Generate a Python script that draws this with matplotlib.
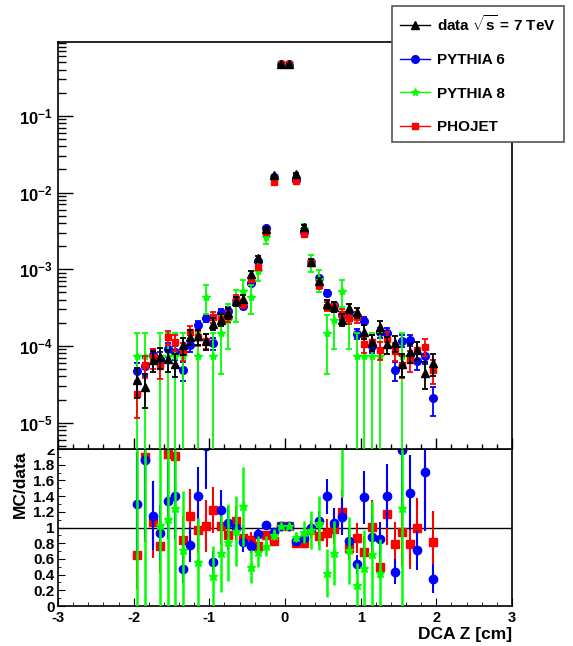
import numpy as np
import matplotlib.pyplot as plt
from matplotlib.lines import Line2D
from matplotlib.patches import Rectangle
from matplotlib.ticker import MultipleLocator, LogLocator, NullFormatter, FixedLocator

plt.rcParams['font.family'] = ['Liberation Sans', 'DejaVu Sans']
plt.rcParams['font.weight'] = 'bold'
plt.rcParams['mathtext.fontset'] = 'custom'
plt.rcParams['mathtext.rm'] = 'Liberation Sans:bold'
plt.rcParams['mathtext.bf'] = 'Liberation Sans:bold'
plt.rcParams['mathtext.it'] = 'Liberation Sans:bold'

# bin centres (cm)
dca_z = [-1.95, -1.85, -1.75, -1.65, -1.55, -1.45, -1.35, -1.25, -1.15, -1.05,
         -0.95, -0.85, -0.75, -0.65, -0.55, -0.45, -0.35, -0.25, -0.15, -0.05,
         0.05, 0.15, 0.25, 0.35, 0.45, 0.55, 0.65, 0.75, 0.85, 0.95,
         1.05, 1.15, 1.25, 1.35, 1.45, 1.55, 1.65, 1.75, 1.85, 1.95]

data_val = [3.6e-5, 2.95e-5, 6.6e-5, 7.2e-5, 6.7e-5, 5.9e-5, 1.03e-4, 1.32e-4, 1.33e-4, 1.15e-4,
            1.95e-4, 2.2e-4, 2.7e-4, 3.85e-4, 4.1e-4, 8.8e-4, 1.39e-3, 3.4e-3, 1.68e-2, 0.47,
            0.47, 1.75e-2, 3.6e-3, 1.26e-3, 7.0e-4, 3.5e-4, 3.25e-4, 2.2e-4, 3.1e-4, 2.74e-4,
            1.54e-4, 1.12e-4, 1.76e-4, 1.05e-4, 1.1e-4, 5.9e-5, 8.3e-5, 8.9e-5, 4.4e-5, 6.0e-5]
data_err = [1.53e-5, 1.38e-5, 2.07e-5, 2.16e-5, 2.09e-5, 1.96e-5, 2.59e-5, 2.93e-5, 2.94e-5, 2.73e-5,
            3.56e-5, 3.78e-5, 4.19e-5, 5.0e-5, 5.16e-5, 7.56e-5, 9.5e-5, 1.49e-4, 3.3e-4, 1.75e-3,
            1.75e-3, 3.37e-4, 1.53e-4, 9.05e-5, 6.75e-5, 4.77e-5, 4.6e-5, 3.78e-5, 4.49e-5, 4.22e-5,
            3.16e-5, 2.7e-5, 3.38e-5, 2.61e-5, 2.67e-5, 1.96e-5, 2.32e-5, 2.4e-5, 1.69e-5, 1.97e-5]

py6_val = [4.7e-5, 5.5e-5, 7.6e-5, 6.7e-5, 9.0e-5, 8.3e-5, 4.8e-5, 1.03e-4, 1.87e-4, 2.34e-4,
           1.09e-4, 2.7e-4, 2.86e-4, 3.85e-4, 3.35e-4, 6.7e-4, 1.28e-3, 3.5e-3, 1.58e-2, 0.48,
           0.48, 1.44e-2, 3.1e-3, 1.26e-3, 7.6e-4, 4.9e-4, 3.45e-4, 2.5e-4, 2.55e-4, 1.45e-4,
           2.13e-4, 9.9e-5, 1.51e-4, 1.47e-4, 4.8e-5, 1.17e-4, 1.2e-4, 6.3e-5, 7.5e-5, 2.1e-5]
py6_err = [1.28e-5, 1.39e-5, 1.63e-5, 1.53e-5, 1.77e-5, 1.7e-5, 1.3e-5, 1.9e-5, 2.56e-5, 2.86e-5,
           1.95e-5, 3.07e-5, 3.16e-5, 3.67e-5, 3.42e-5, 4.84e-5, 6.7e-5, 1.1e-4, 2.35e-4, 1.3e-3,
           1.3e-3, 2.25e-4, 1.04e-4, 6.6e-5, 5.2e-5, 4.14e-5, 3.47e-5, 2.96e-5, 2.99e-5, 2.25e-5,
           2.73e-5, 1.86e-5, 2.3e-5, 2.27e-5, 1.3e-5, 2.02e-5, 2.05e-5, 1.48e-5, 1.62e-5, 8.6e-6]

py8_val = [7.4e-5, 7.4e-5, 0, 7.4e-5, 7.4e-5, 7.4e-5, 7.4e-5, 0, 7.4e-5, 4.4e-4,
           7.4e-5, 1.48e-4, 2.2e-4, 3.7e-4, 5.2e-4, 4.4e-4, 9.6e-4, 2.6e-3, 1.53e-2, 0.48,
           0.48, 1.54e-2, 3.4e-3, 1.22e-3, 7.4e-4, 1.48e-4, 2.2e-4, 5.2e-4, 2.2e-4, 7.4e-5,
           7.4e-5, 7.4e-5, 7.4e-5, 0, 0, 7.4e-5, 0, 0, 0, 0]
py8_err = [7.4e-5, 7.4e-5, 0, 7.4e-5, 7.4e-5, 7.4e-5, 7.4e-5, 0, 7.4e-5, 1.81e-4,
           7.4e-5, 1.05e-4, 1.28e-4, 1.65e-4, 1.96e-4, 1.81e-4, 2.67e-4, 4.39e-4, 1.06e-3, 5.96e-3,
           5.96e-3, 1.07e-3, 5.0e-4, 3.0e-4, 2.34e-4, 1.05e-4, 1.28e-4, 1.96e-4, 1.28e-4, 7.4e-5,
           7.4e-5, 7.4e-5, 7.4e-5, 0, 0, 7.4e-5, 0, 0, 0, 0]

pho_val = [2.35e-5, 5.6e-5, 7.1e-5, 5.5e-5, 1.3e-4, 1.13e-4, 8.7e-5, 1.52e-4, 1.29e-4, 1.17e-4,
           2.38e-4, 2.25e-4, 2.46e-4, 4.15e-4, 3.57e-4, 7.4e-4, 1.07e-3, 3.06e-3, 1.39e-2, 0.48,
           0.48, 1.40e-2, 2.9e-3, 1.22e-3, 6.2e-4, 3.27e-4, 3.2e-4, 2.64e-4, 2.3e-4, 2.36e-4,
           1.05e-4, 1.13e-4, 8.8e-5, 1.23e-4, 8.7e-5, 5.6e-5, 6.6e-5, 8.9e-5, 9.8e-5, 4.9e-5]
pho_err = [1.19e-5, 1.83e-5, 2.06e-5, 1.82e-5, 2.79e-5, 2.6e-5, 2.28e-5, 3.02e-5, 2.78e-5, 2.65e-5,
           3.78e-5, 3.67e-5, 3.84e-5, 4.99e-5, 4.63e-5, 6.66e-5, 8.0e-5, 1.35e-4, 2.89e-4, 1.7e-3,
           1.7e-3, 2.9e-4, 1.32e-4, 8.6e-5, 6.1e-5, 4.43e-5, 4.38e-5, 3.98e-5, 3.71e-5, 3.76e-5,
           2.51e-5, 2.6e-5, 2.3e-5, 2.72e-5, 2.28e-5, 1.83e-5, 1.99e-5, 2.31e-5, 2.42e-5, 1.71e-5]

x = np.array(dca_z)
d = np.array(data_val)
de = np.array(data_err)

# name, values, errors, colour, marker, size, zorder top, zorder ratio
mc = [
    ('PYTHIA 6', py6_val, py6_err, 'blue', 'o', 5.5, 2, 4),
    ('PYTHIA 8', py8_val, py8_err, '#00ff00', '*', 6, 3, 5),
    ('PHOJET', pho_val, pho_err, 'red', 's', 5, 4, 3),
]

fig = plt.figure(figsize=(5.73, 6.46), dpi=100)
ax2 = fig.add_axes([0.1012, 0.0619, 0.7923, 0.243])
ax1 = fig.add_axes([0.1012, 0.3050, 0.7923, 0.630])
ax2.set_zorder(0)
ax1.set_zorder(2)
# the upper pad hides the top of the ratio axis labels, as in the original
fig.patches.append(Rectangle((0, 1 - 449 / 646), 58 / 573, 449 / 646, transform=fig.transFigure,
                             facecolor='white', edgecolor='none', zorder=1))

# top: distributions
for name, v, e, c, m, ms, z, _ in mc:
    v = np.array(v, dtype=float)
    e = np.array(e, dtype=float)
    v[v == 0] = np.nan
    ax1.errorbar(x, v, yerr=e, fmt=m, color=c, ms=ms, mec=c, elinewidth=1.3,
                 capsize=2.2, capthick=1.3, zorder=z)
ax1.errorbar(x, d, yerr=de, fmt='^', color='black', ms=6, elinewidth=1.3,
             capsize=2.2, capthick=1.3, zorder=6)

ax1.set_yscale('log')
ax1.set_xlim(-3, 3)
ax1.set_ylim(4.54e-6, 0.919)
ax1.xaxis.set_major_locator(MultipleLocator(1))
ax1.xaxis.set_minor_locator(MultipleLocator(0.2))
ax1.xaxis.set_major_formatter(NullFormatter())
ax1.yaxis.set_major_locator(FixedLocator([1e-5, 1e-4, 1e-3, 1e-2, 1e-1]))
ax1.yaxis.set_minor_locator(LogLocator(base=10, subs=np.arange(2, 10)))
ax1.yaxis.set_minor_formatter(NullFormatter())
ax1.set_yticklabels([r'$\mathbf{10^{-5}}$', r'$\mathbf{10^{-4}}$', r'$\mathbf{10^{-3}}$',
                     r'$\mathbf{10^{-2}}$', r'$\mathbf{10^{-1}}$'])
ax1.tick_params(axis='y', which='major', direction='in', length=11, width=1, labelsize=12, pad=4)
ax1.tick_params(axis='y', which='minor', direction='in', length=5.5, width=1)
ax1.tick_params(axis='x', which='major', direction='in', length=8, width=1)
ax1.tick_params(axis='x', which='minor', direction='in', length=3.5, width=1)
for sp in ax1.spines.values():
    sp.set_linewidth(1.2)

# bottom: ratio MC/data
for name, v, e, c, m, ms, _, z in mc:
    v = np.array(v, dtype=float)
    e = np.array(e, dtype=float)
    r = v / d
    re = np.sqrt((e / d) ** 2 + (v * de / d ** 2) ** 2)
    r[v == 0] = np.nan
    ax2.errorbar(x, r, yerr=re, fmt=m, color=c, ms=ms + 0.5, mec=c,
                 elinewidth=1.5 if c != '#00ff00' else 1.8, capsize=0, zorder=z)
ax2.axhline(1, color='black', lw=1, zorder=1)

ax2.set_xlim(-3, 3)
ax2.set_ylim(0, 2)
ax2.xaxis.set_minor_locator(MultipleLocator(0.2))
ax2.yaxis.set_minor_locator(MultipleLocator(0.1))
ax2.set_xticks([-3, -2, -1, 0, 1, 2, 3])
ax2.set_xticklabels(['-3', '-2', '-1', '0', '1', '2', '3'])
ax2.set_yticks([0, 0.2, 0.4, 0.6, 0.8, 1, 1.2, 1.4, 1.6, 1.8, 2])
ax2.set_yticklabels(['0', '0.2', '0.4', '0.6', '0.8', '1', '1.2', '1.4', '1.6', '1.8', '2'])
ax2.tick_params(axis='both', which='both', direction='in', labelsize=11)
ax2.tick_params(axis='y', which='major', length=5, pad=2.5)
ax2.tick_params(axis='y', which='minor', length=2.5)
ax2.tick_params(axis='x', which='major', length=6, pad=3.5, labelsize=10.5)
ax2.tick_params(axis='x', which='minor', length=3)
for sp in ax2.spines.values():
    sp.set_linewidth(1.2)

fig.text(20.7 / 573, 1 - 451 / 646, 'MC/data', rotation=90, ha='center', va='top',
         fontsize=12.5, fontweight='bold', zorder=0.5)
fig.text(512 / 573, 1 - 634 / 646, 'DCA Z [cm]', ha='right', va='center',
         fontsize=12.5, fontweight='bold')

handles = [
    Line2D([], [], color='black', marker='^', ms=5.5, lw=1),
    Line2D([], [], color='blue', marker='o', ms=5.5, lw=1),
    Line2D([], [], color='#00ff00', marker='*', ms=5.5, lw=1),
    Line2D([], [], color='red', marker='s', ms=5, lw=1),
]
labels = [r'data $\mathbf{\sqrt{s}}$ = 7 TeV', 'PYTHIA 6', 'PYTHIA 8', 'PHOJET']
leg = fig.legend(handles, labels, loc='upper left',
                 bbox_to_anchor=(392 / 573, 1 - 6 / 646, 172 / 573, 0.0),
                 mode='expand', fontsize=11, frameon=True, fancybox=False,
                 framealpha=1, edgecolor='#555555', borderpad=0.5, labelspacing=1.28,
                 handlelength=2.0, handletextpad=0.45, borderaxespad=0)
leg.get_frame().set_linewidth(1.2)
leg.set_zorder(10)

fig.savefig('out.png', dpi=100)
